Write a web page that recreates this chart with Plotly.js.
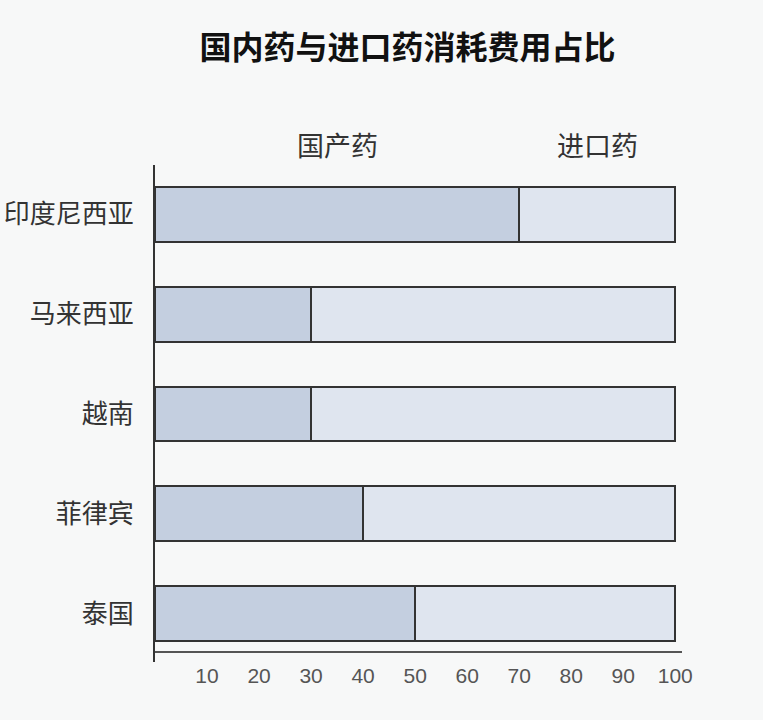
<!DOCTYPE html>
<html>
<head>
<meta charset="utf-8">
<script src="https://cdn.plot.ly/plotly-3.0.1.min.js"></script>
<style>
html,body{margin:0;padding:0;background:#f7f8f8;}
#chart{width:763px;height:720px;}
</style>
</head>
<body>
<div id="chart"></div>
<script>
// Data
const countries = ["泰国", "菲律宾", "越南", "马来西亚", "印度尼西亚"];
const domestic = [50, 40, 30, 30, 70];
const imported = [50, 60, 70, 70, 30];
const seriesNames = ["国产药", "进口药"];
const xTicks = [10, 20, 30, 40, 50, 60, 70, 80, 90, 100];
const chartTitle = "国内药与进口药消耗费用占比";

const cjk = '"Noto Sans CJK SC", "Noto Sans", sans-serif';
const num = '"Liberation Sans", Arial, sans-serif';

const traces = [
  {
    type: 'bar', orientation: 'h', name: seriesNames[0],
    y: countries, x: domestic,
    marker: {color: '#c4cfe0', line: {color: '#333333', width: 2}},
    hoverinfo: 'x+y'
  },
  {
    type: 'bar', orientation: 'h', name: seriesNames[1],
    y: countries, x: imported,
    marker: {color: '#dfe5ef', line: {color: '#333333', width: 2}},
    hoverinfo: 'x+y'
  }
];

// label annotations centred over the segments of the top bar
const topIdx = countries.length - 1;
const annotations = [
  {x: domestic[topIdx] / 2, text: seriesNames[0]},
  {x: domestic[topIdx] + imported[topIdx] / 2, text: seriesNames[1]}
].map(a => ({
  x: a.x, xref: 'x', y: 1, yref: 'paper', yanchor: 'bottom', yshift: -1,
  text: a.text, showarrow: false,
  font: {family: cjk, size: 27, color: '#333333'}
}));

const layout = {
  width: 763, height: 720,
  paper_bgcolor: '#f7f8f8', plot_bgcolor: '#f7f8f8',
  margin: {l: 155, r: 81, t: 165, b: 58},
  barmode: 'stack',
  bargap: 0.45,
  showlegend: false,
  title: {
    text: '<b>' + chartTitle + '</b>',
    x: 0.534, xanchor: 'center', y: 0.933, yanchor: 'middle',
    font: {family: cjk, size: 32, color: '#111111'}
  },
  xaxis: {
    range: [0, 101.3],
    tickvals: xTicks,
    showgrid: false, zeroline: false,
    showline: true, linecolor: '#555555', linewidth: 2,
    anchor: 'free', position: 0.02,
    ticks: '', ticklabelstandoff: 5,
    tickfont: {family: num, size: 21, color: '#555555'},
    fixedrange: true
  },
  yaxis: {
    range: [-0.486, 4.495],
    showgrid: false, zeroline: false,
    showline: true, linecolor: '#333333', linewidth: 2,
    ticks: '', ticklabelstandoff: 14,
    tickfont: {family: cjk, size: 26, color: '#333333'},
    fixedrange: true
  },
  annotations: annotations
};

Plotly.newPlot('chart', traces, layout, {displayModeBar: false, staticPlot: true});
</script>
</body>
</html>
